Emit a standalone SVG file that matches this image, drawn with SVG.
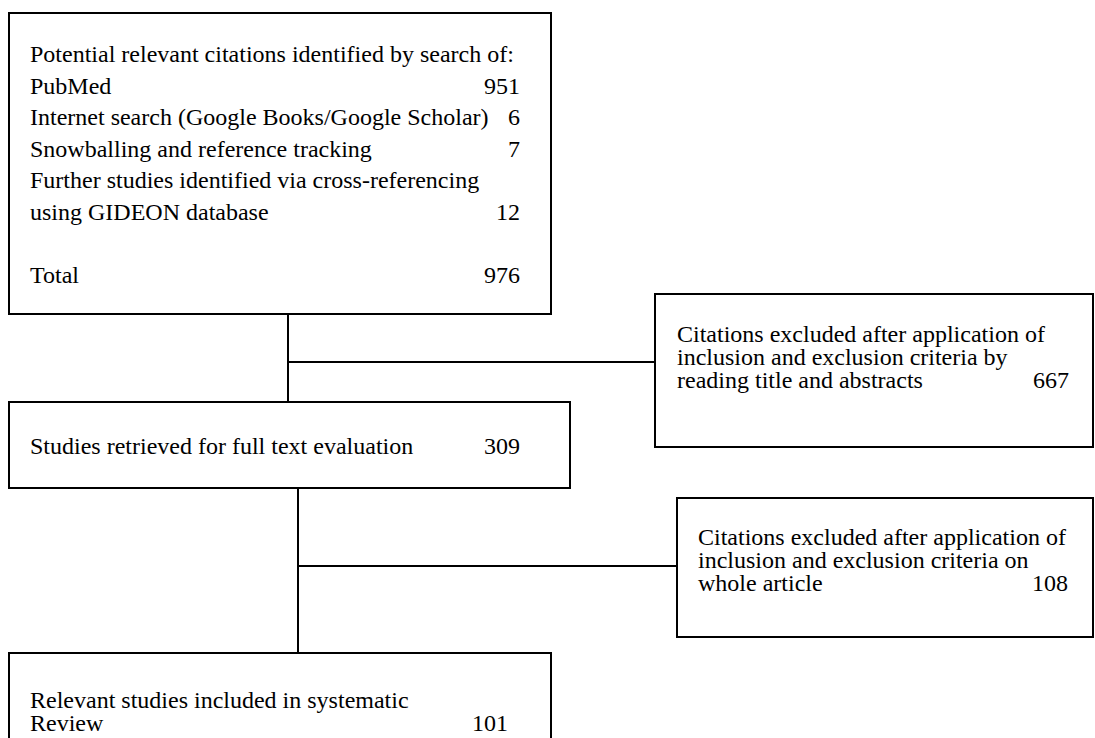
<svg xmlns="http://www.w3.org/2000/svg" width="1095" height="738" viewBox="0 0 1095 738">
  <style>
    .box { fill: #ffffff; stroke: #000000; stroke-width: 2; }
    .conn { fill: none; stroke: #000000; stroke-width: 2; }
    text { font-family: "Liberation Serif", "Times New Roman", serif; font-size: 24px; fill: #000000; }
    .num { text-anchor: end; }
  </style>
  <rect x="0" y="0" width="1095" height="738" fill="#ffffff"/>

  <g id="connectors">
    <path class="conn" d="M288,314 V402 M288,362 H655"/>
    <path class="conn" d="M298,488 V653 M298,566 H677"/>
  </g>

  <g id="identified">
    <rect class="box" x="9" y="13" width="542" height="301"/>
    <text x="30" y="62">Potential relevant citations identified by search of:</text>
    <text x="30" y="94">PubMed</text>
    <text class="num" x="520" y="94">951</text>
    <text x="30" y="125">Internet search (Google Books/Google Scholar)</text>
    <text class="num" x="520" y="125">6</text>
    <text x="30" y="157">Snowballing and reference tracking</text>
    <text class="num" x="520" y="157">7</text>
    <text x="30" y="188">Further studies identified via cross-referencing</text>
    <text x="30" y="220">using GIDEON database</text>
    <text class="num" x="520" y="220">12</text>
    <text x="30" y="283">Total</text>
    <text class="num" x="520" y="283">976</text>
  </g>

  <g id="excluded1">
    <rect class="box" x="655" y="294" width="438" height="153"/>
    <text x="677" y="342">Citations excluded after application of</text>
    <text x="677" y="365">inclusion and exclusion criteria by</text>
    <text x="677" y="388">reading title and abstracts</text>
    <text class="num" x="1069" y="388">667</text>
  </g>

  <g id="fulltext">
    <rect class="box" x="9" y="402" width="561" height="86"/>
    <text x="30" y="454">Studies retrieved for full text evaluation</text>
    <text class="num" x="520" y="454">309</text>
  </g>

  <g id="excluded2">
    <rect class="box" x="677" y="498" width="416" height="139"/>
    <text x="698" y="545">Citations excluded after application of</text>
    <text x="698" y="568">inclusion and exclusion criteria on</text>
    <text x="698" y="591">whole article</text>
    <text class="num" x="1068" y="591">108</text>
  </g>

  <g id="included">
    <rect class="box" x="9" y="653" width="542" height="110"/>
    <text x="30" y="708">Relevant studies included in systematic</text>
    <text x="30" y="731">Review</text>
    <text class="num" x="508" y="731">101</text>
  </g>
</svg>
